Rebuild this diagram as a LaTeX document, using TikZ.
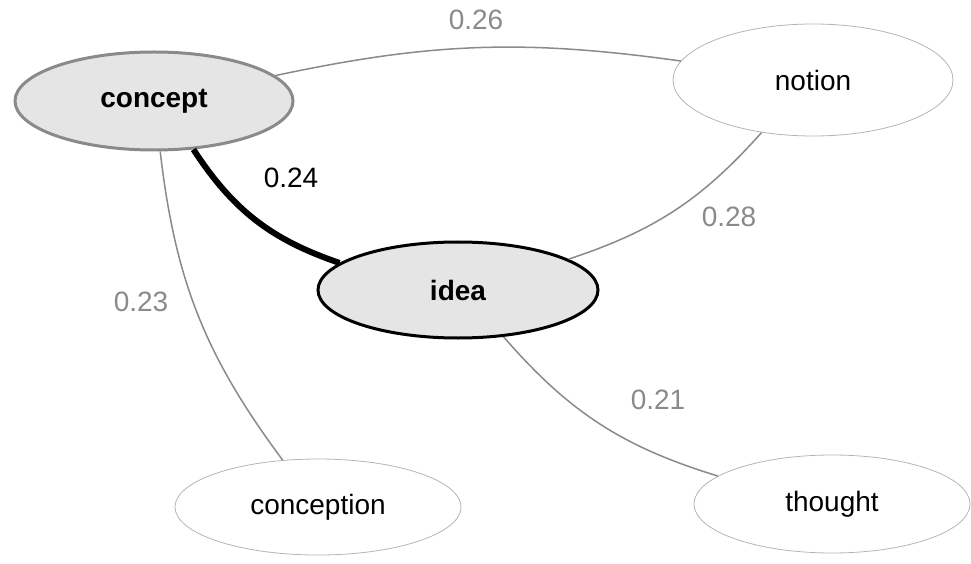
\documentclass[tikz,border=0pt]{standalone}
\usepackage{fontspec}
\setmainfont{Liberation Sans}
\usetikzlibrary{shapes.geometric}
\definecolor{nodefill}{HTML}{E5E5E5}
\definecolor{edgegray}{HTML}{8A8A8A}
\definecolor{rimgray}{HTML}{B4B4B4}
\begin{document}
\begin{tikzpicture}[x=1pt,y=1pt,
    every node/.style={font=\fontsize{28}{34}\selectfont},
    word/.style={ellipse,draw=rimgray,line width=0.8pt,inner sep=0pt},
    hub/.style={word,fill=nodefill,line width=3pt,font=\fontsize{28}{34}\selectfont\bfseries},
    weight/.style={text=edgegray}]
      \useasboundingbox (0,0) rectangle (971,563);
      \draw
        (154,462) node[hub,draw=edgegray,minimum width=278,minimum height=98] (concept){concept}
        (458,273) node[hub,draw=black,minimum width=280,minimum height=96] (idea){idea}
        (813,483) node[word,minimum width=280,minimum height=112] (notion){notion}
        (318,56) node[word,minimum width=286,minimum height=96] (conception){conception}
        (832,59) node[word,minimum width=276,minimum height=98] (thought){thought};
      \draw
        (476,543) node[weight] (w1){0.26}
        (291,385) node (w2){0.24}
        (141,261) node[weight] (w3){0.23}
        (729,346) node[weight] (w4){0.28}
        (658,163) node[weight] (w5){0.21};
      \begin{scope}[-,draw=edgegray,line width=1.5pt]
        \draw (concept) to[bend left=10] (notion);
        \draw (concept) to[bend right=15] (conception);
        \draw (idea) to[bend right=15] (notion);
        \draw (idea) to[bend right=16] (thought);
        \draw[black,line width=6pt] (concept) to[bend right=19] (idea);
      \end{scope}
    \end{tikzpicture}
\end{document}
